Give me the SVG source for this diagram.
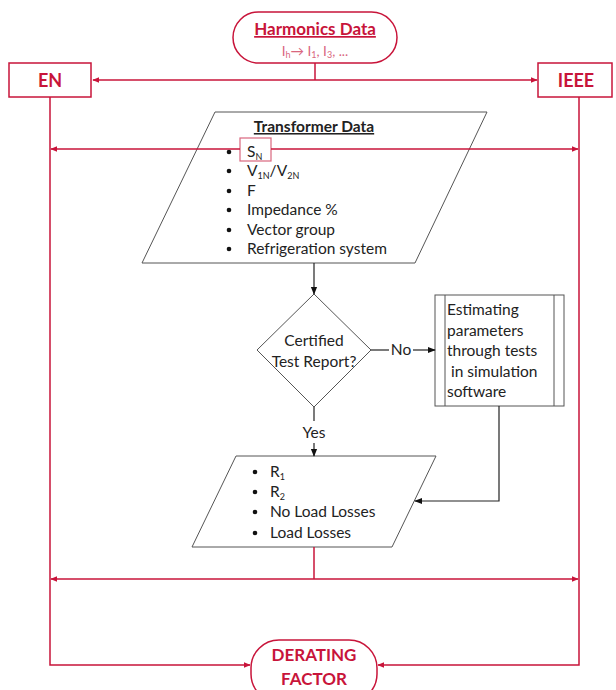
<svg xmlns="http://www.w3.org/2000/svg" width="616" height="690" viewBox="0 0 616 690">
<style>
.bg{fill:#ffffff}
.rbox{fill:#ffffff;stroke:#c8143a;stroke-width:1.5}
.gbox{fill:#ffffff;stroke:#555555;stroke-width:1}
.rl{fill:none;stroke:#c8143a;stroke-width:1.5}
.bl{fill:none;stroke:#222222;stroke-width:1.2}
.rt{font-family:Lato,"Noto Sans",sans-serif;font-weight:bold;fill:#c8143a}
.t{font-family:Lato,"Noto Sans",sans-serif;font-size:15.5px;fill:#222222}
.tb{font-family:Lato,"Noto Sans",sans-serif;font-size:15.5px;font-weight:bold;fill:#222222;text-decoration:underline}
.dot{fill:#111111}
</style>
<defs>
<marker id="ra" viewBox="0 0 10 10" refX="9" refY="5" markerWidth="7" markerHeight="7" orient="auto-start-reverse" markerUnits="userSpaceOnUse">
<path d="M0,1 L10,5 L0,9 z" fill="#c8143a"/>
</marker>
<marker id="ba" viewBox="0 0 10 10" refX="9" refY="5" markerWidth="8" markerHeight="8" orient="auto-start-reverse" markerUnits="userSpaceOnUse">
<path d="M0,1 L10,5 L0,9 z" fill="#111111"/>
</marker>
</defs>
<rect class="bg" x="0" y="0" width="616" height="690"/>

<g id="harmonics">
<rect class="rbox" x="233" y="12" width="164" height="51" rx="25.5"/>
<text class="rt" x="315" y="35" font-size="17" text-anchor="middle" text-decoration="underline">Harmonics Data</text>
<text x="315" y="56" font-family="Lato,'Noto Sans',sans-serif" font-size="13.5" fill="#d9667e" text-anchor="middle">I<tspan font-size="9" dy="2">h</tspan><tspan dy="-2">→ I</tspan><tspan font-size="9" dy="2">1</tspan><tspan dy="-2">, I</tspan><tspan font-size="9" dy="2">3</tspan><tspan dy="-2">, ...</tspan></text>
</g>

<g id="en">
<rect class="rbox" x="9" y="63" width="82" height="34"/>
<text class="rt" x="50" y="87" font-size="18" text-anchor="middle">EN</text>
</g>

<g id="ieee">
<rect class="rbox" x="538" y="63" width="74" height="34"/>
<text class="rt" x="576" y="87" font-size="18" text-anchor="middle">IEEE</text>
</g>

<g id="transformer-data">
<polygon class="gbox" points="215,112 487,112 415,263 142,263"/>
<text class="tb" x="314" y="132" text-anchor="middle">Transformer Data</text>
<circle class="dot" cx="229" cy="152" r="2.3"/>
<circle class="dot" cx="229" cy="171" r="2.3"/>
<circle class="dot" cx="229" cy="191" r="2.3"/>
<circle class="dot" cx="229" cy="210" r="2.3"/>
<circle class="dot" cx="229" cy="230" r="2.3"/>
<circle class="dot" cx="229" cy="249" r="2.3"/>
<rect x="240" y="138" width="31" height="23" fill="#ffffff" stroke="#d9667e" stroke-width="1.2"/>
<text class="t" x="247" y="157">S<tspan font-size="9" dy="3">N</tspan></text>
<text class="t" x="247" y="176">V<tspan font-size="9" dy="3">1N</tspan><tspan dy="-3">/V</tspan><tspan font-size="9" dy="3">2N</tspan></text>
<text class="t" x="247" y="196">F</text>
<text class="t" x="247" y="215">Impedance %</text>
<text class="t" x="247" y="235">Vector group</text>
<text class="t" x="247" y="254">Refrigeration system</text>
</g>

<g id="decision">
<polygon class="gbox" points="314,294 371,350 314,407 257,350"/>
<text class="t" x="314" y="346" text-anchor="middle">Certified</text>
<text class="t" x="314" y="367" text-anchor="middle">Test Report?</text>
</g>

<g id="estimating">
<rect class="gbox" x="435" y="295" width="129" height="111"/>
<line class="gbox" x1="445" y1="295" x2="445" y2="406"/>
<line class="gbox" x1="554" y1="295" x2="554" y2="406"/>
<text class="t" x="447" y="315">Estimating</text>
<text class="t" x="447" y="336">parameters</text>
<text class="t" x="447" y="356">through tests</text>
<text class="t" x="447" y="377" xml:space="preserve"> in simulation</text>
<text class="t" x="447" y="397">software</text>
</g>

<g id="parameters">
<polygon class="gbox" points="236,456 436,456 392,547 192,547"/>
<circle class="dot" cx="255" cy="472" r="2.3"/>
<circle class="dot" cx="255" cy="492" r="2.3"/>
<circle class="dot" cx="255" cy="512" r="2.3"/>
<circle class="dot" cx="255" cy="533" r="2.3"/>
<text class="t" x="270" y="477">R<tspan font-size="9" dy="3">1</tspan></text>
<text class="t" x="270" y="497">R<tspan font-size="9" dy="3">2</tspan></text>
<text class="t" x="270" y="517">No Load Losses</text>
<text class="t" x="270" y="538">Load Losses</text>
</g>

<g id="derating">
<rect class="rbox" x="251" y="640" width="126" height="62" rx="28"/>
<text class="rt" x="314" y="661" font-size="17" text-anchor="middle">DERATING</text>
<text class="rt" x="314" y="685" font-size="17" text-anchor="middle">FACTOR</text>
</g>

<g id="connectors">
<line class="rl" x1="315" y1="63" x2="315" y2="80"/>
<line class="rl" x1="93" y1="80" x2="537" y2="80" marker-start="url(#ra)" marker-end="url(#ra)"/>
<polyline class="rl" points="50,97 50,665 250,665" marker-end="url(#ra)"/>
<polyline class="rl" points="579,97 579,665 378,665" marker-end="url(#ra)"/>
<line class="rl" x1="240" y1="149" x2="51" y2="149" marker-end="url(#ra)"/>
<line class="rl" x1="271" y1="149" x2="578" y2="149" marker-end="url(#ra)"/>
<line class="bl" x1="314" y1="263" x2="314" y2="294" marker-end="url(#ba)"/>
<line class="bl" x1="371" y1="350" x2="389" y2="350"/>
<line class="bl" x1="413" y1="350" x2="435" y2="350" marker-end="url(#ba)"/>
<polyline class="bl" points="499,406 499,501 415,501" marker-end="url(#ba)"/>
<line class="bl" x1="314" y1="407" x2="314" y2="421"/>
<line class="bl" x1="314" y1="443" x2="314" y2="456" marker-end="url(#ba)"/>
<line class="rl" x1="314" y1="547" x2="314" y2="579"/>
<line class="rl" x1="51" y1="579" x2="578" y2="579" marker-start="url(#ra)" marker-end="url(#ra)"/>
<text class="t" x="401" y="355" text-anchor="middle">No</text>
<text class="t" x="314" y="438" text-anchor="middle">Yes</text>
</g>
</svg>
